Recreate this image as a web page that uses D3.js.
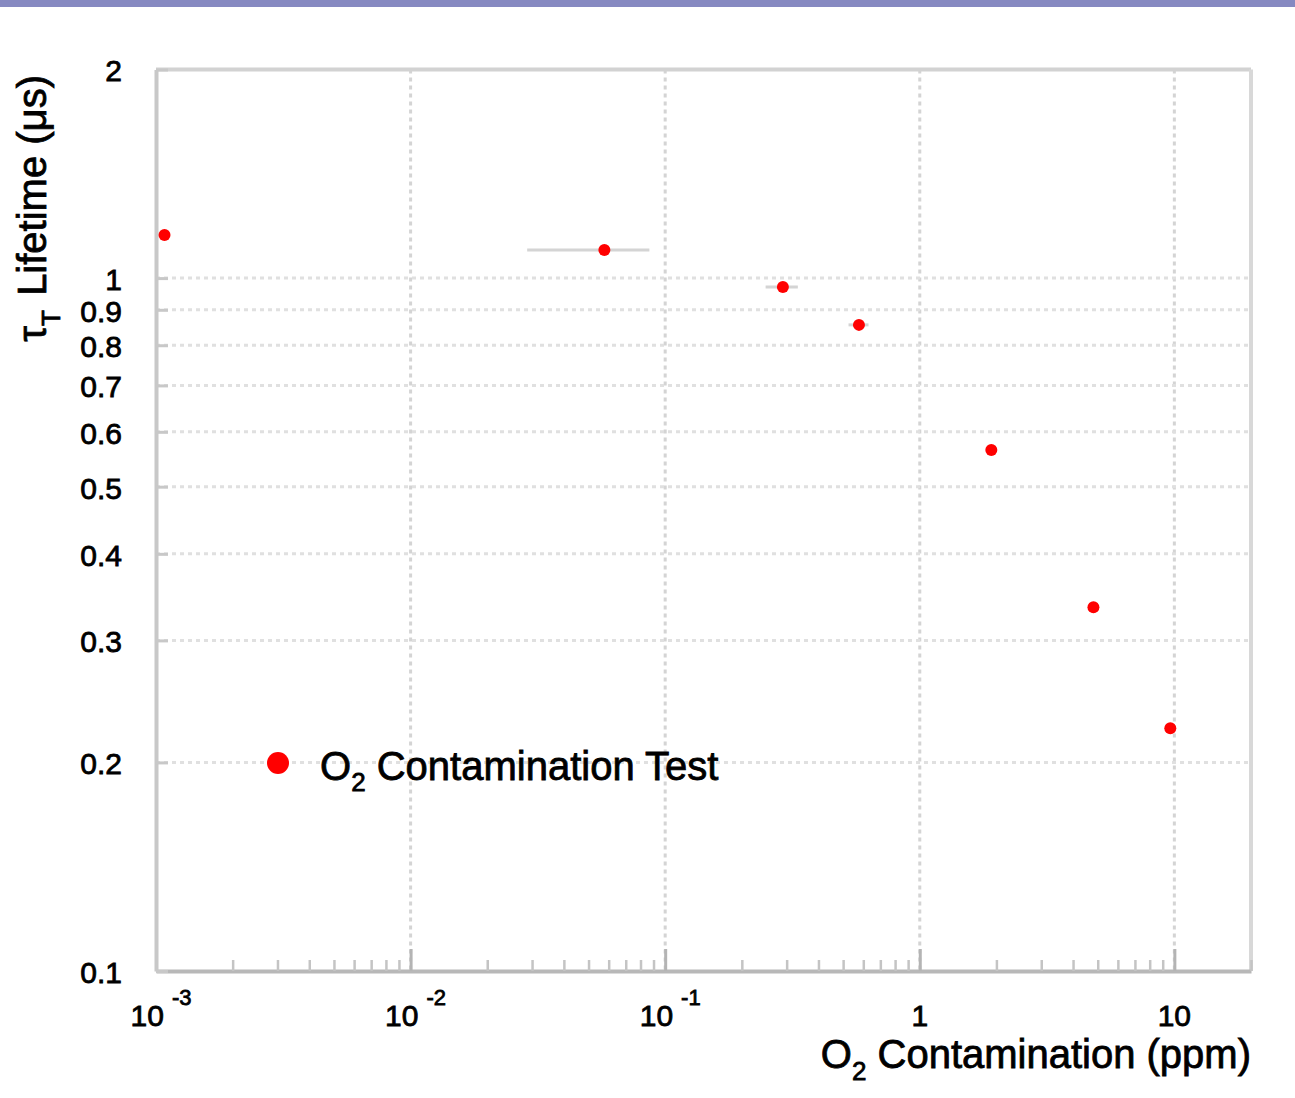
<!DOCTYPE html>
<html>
<head>
<meta charset="utf-8">
<script src="https://cdn.jsdelivr.net/npm/d3@7"></script>
<style>
  body { margin: 0; background: #fff; }
  svg { display: block; }
  text { font-family: "Liberation Sans", Arial, Helvetica, sans-serif; fill: #000;
         stroke: #000; stroke-width: 0.8px; }
</style>
</head>
<body>
<svg id="chart" width="1295" height="1098"></svg>
<script>
// O2 contamination scan: measured lifetime versus oxygen level
const o2ppm    = [0.00108, 0.0577, 0.290, 0.577, 1.91, 4.81, 9.64];
const o2Err    = [0,       0.029,  0.042, 0.052, 0,    0,    0];
const lifetime = [1.154,   1.098,  0.971, 0.856, 0.565, 0.335, 0.224];

// axis ticks and their labels
const xMajor     = [0.001, 0.01, 0.1, 1, 10];
const xMajorBase = ["10", "10", "10", "1", "10"];
const xMajorExp  = ["-3", "-2", "-1", "", ""];
const yTicks      = [0.1, 0.2, 0.3, 0.4, 0.5, 0.6, 0.7, 0.8, 0.9, 1, 2];
const yTickLabels = ["0.1", "0.2", "0.3", "0.4", "0.5", "0.6", "0.7", "0.8", "0.9", "1", "2"];
const yGrid       = [0.2, 0.3, 0.4, 0.5, 0.6, 0.7, 0.8, 0.9, 1];

const legendLabel = "Contamination Test";

const svg = d3.select("#chart");
const W = 1295;
const plot = { left: 156, right: 1251, top: 69.5, bottom: 971 };

const x = d3.scaleLog().domain([0.001, 20]).range([plot.left, plot.right]);
const y = d3.scaleLog().domain([0.1, 2]).range([plot.bottom, plot.top]);

// header band
svg.append("rect").attr("x", 0).attr("y", 0).attr("width", W).attr("height", 7)
  .attr("fill", "#8689c1");

// minor x ticks: 2..9 of each decade inside the domain
const xMinor = [];
for (let e = -3; e <= 1; e++) {
  for (let m = 2; m <= 9; m++) {
    const v = m * Math.pow(10, e);
    if (v <= 20) xMinor.push(v);
  }
}

// grid
svg.append("g")
  .selectAll("line").data(xMajor.slice(1)).join("line")
  .attr("x1", d => x(d)).attr("x2", d => x(d))
  .attr("y1", plot.top).attr("y2", plot.bottom)
  .attr("stroke", "#d4d4d4").attr("stroke-width", 3)
  .attr("stroke-dasharray", "4,4");

svg.append("g")
  .selectAll("line").data(yGrid).join("line")
  .attr("x1", plot.left).attr("x2", plot.right)
  .attr("y1", d => y(d)).attr("y2", d => y(d))
  .attr("stroke", "#e0e0e0").attr("stroke-width", 3)
  .attr("stroke-dasharray", "4,4");

// frame: top and right edges
svg.append("line").attr("x1", plot.left).attr("x2", plot.right)
  .attr("y1", plot.top).attr("y2", plot.top)
  .attr("stroke", "#d2d2d2").attr("stroke-width", 4);
svg.append("line").attr("x1", plot.right).attr("x2", plot.right)
  .attr("y1", plot.top).attr("y2", plot.bottom)
  .attr("stroke", "#d8d8d8").attr("stroke-width", 4);

// bottom axis: minor ticks, then major ticks pointing up into the plot
const xMinorAxis = svg.append("g")
  .attr("transform", `translate(0,${plot.bottom})`)
  .call(d3.axisBottom(x).tickValues(xMinor).tickSizeInner(-11).tickSizeOuter(0).tickFormat(""));
xMinorAxis.select(".domain").attr("stroke", "#b8b8b8").attr("stroke-width", 4);
xMinorAxis.selectAll(".tick line").attr("stroke", "#c4c4c4").attr("stroke-width", 2.5);

const xMajorAxis = svg.append("g")
  .attr("transform", `translate(0,${plot.bottom})`)
  .call(d3.axisBottom(x).tickValues(xMajor).tickSizeInner(-22).tickSizeOuter(0).tickFormat(""));
xMajorAxis.select(".domain").remove();
xMajorAxis.selectAll(".tick line").attr("stroke", "#b4b4b4").attr("stroke-width", 3);

// x tick labels with powers of ten
const xLab = svg.append("g").selectAll("text").data(xMajor).join("text")
  .attr("x", (d, i) => x(d) + (xMajorExp[i] ? 5 : 0))
  .attr("y", 1026)
  .attr("text-anchor", "middle")
  .attr("font-size", 30);
xLab.append("tspan").text((d, i) => xMajorBase[i]);
xLab.append("tspan")
  .attr("dx", 8).attr("dy", -21).attr("font-size", 22)
  .text((d, i) => xMajorExp[i]);

// left axis
const yAxis = svg.append("g")
  .attr("transform", `translate(${plot.left},0)`)
  .call(d3.axisLeft(y).tickValues(yTicks).tickSizeInner(-12).tickSizeOuter(0)
    .tickPadding(34).tickFormat((d, i) => yTickLabels[i]));
yAxis.select(".domain").attr("stroke", "#c8c8c8").attr("stroke-width", 4);
yAxis.selectAll(".tick line").attr("stroke", "#c8c8c8").attr("stroke-width", 3);
yAxis.selectAll(".tick text")
  .attr("font-size", 30).attr("dy", "0.38em")
  .attr("font-family", "'Liberation Sans', Arial, Helvetica, sans-serif")
  .attr("fill", "#000");

// x axis title
const xTitle = svg.append("text")
  .attr("x", plot.right).attr("y", 1068)
  .attr("text-anchor", "end").attr("font-size", 40);
xTitle.append("tspan").text("O");
xTitle.append("tspan").attr("font-size", 26).attr("dy", 12).text("2");
xTitle.append("tspan").attr("dy", -12).text(" Contamination (ppm)");

// y axis title
const yTitle = svg.append("text")
  .attr("transform", "translate(46,0) rotate(-90)")
  .attr("x", -75).attr("y", 0)
  .attr("text-anchor", "end").attr("font-size", 40);
yTitle.append("tspan").text("τ");
yTitle.append("tspan").attr("font-size", 26).attr("dy", 14).text("T");
yTitle.append("tspan").attr("dy", -14).attr("dx", 3).text(" Lifetime (μs)");

// horizontal error bars
svg.append("g")
  .selectAll("line").data(o2ppm.map((v, i) => i).filter(i => o2Err[i] > 0)).join("line")
  .attr("x1", i => x(o2ppm[i] - o2Err[i]))
  .attr("x2", i => x(o2ppm[i] + o2Err[i]))
  .attr("y1", i => y(lifetime[i])).attr("y2", i => y(lifetime[i]))
  .attr("stroke", "#d4d4d4").attr("stroke-width", 3);

// data points
svg.append("g")
  .selectAll("circle").data(o2ppm).join("circle")
  .attr("cx", d => x(d))
  .attr("cy", (d, i) => y(lifetime[i]))
  .attr("r", 6)
  .attr("fill", "#ff0000");

// legend
svg.append("circle").attr("cx", 278).attr("cy", 763).attr("r", 11).attr("fill", "#ff0000");
const leg = svg.append("text").attr("x", 320).attr("y", 780).attr("font-size", 40);
leg.append("tspan").text("O");
leg.append("tspan").attr("font-size", 26).attr("dy", 11).text("2");
leg.append("tspan").attr("dy", -11).text(" " + legendLabel);
</script>
</body>
</html>
